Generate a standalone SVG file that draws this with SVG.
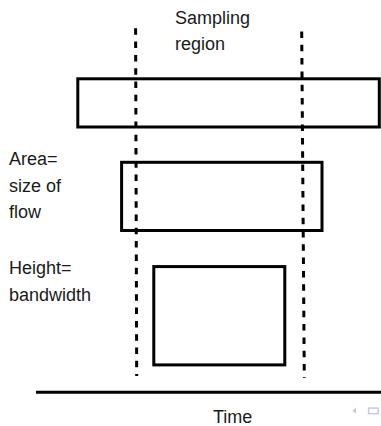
<svg xmlns="http://www.w3.org/2000/svg" width="381" height="426" viewBox="0 0 381 426">
<style>
.box{fill:none;stroke:#000;stroke-width:3}
.dash{fill:none;stroke:#000;stroke-width:3;stroke-dasharray:6.5 6.8}
.axis{fill:none;stroke:#000;stroke-width:3}
text{font-family:"Liberation Sans",Arial,sans-serif;font-size:18px;fill:#1a1a1a}
.nav{fill:none;stroke:#c8c8ea;stroke-width:1.5}
</style>
<rect width="381" height="426" fill="#fff"/>
<g id="connectors">
<line class="dash" x1="135.6" y1="28.3" x2="136.7" y2="376"/>
<line class="dash" x1="301.7" y1="31.5" x2="304.3" y2="378"/>
<line class="axis" x1="36" y1="392.3" x2="381" y2="392.3"/>
</g>
<g id="flow1"><rect class="box" x="77.8" y="78.8" width="301.5" height="48.2"/></g>
<g id="flow2"><rect class="box" x="121.6" y="162.3" width="200.4" height="68.2"/></g>
<g id="flow3"><rect class="box" x="153.8" y="266.6" width="131" height="98.3"/></g>
<g id="label-sampling"><text x="175" y="23.5">Sampling</text><text x="175" y="50">region</text></g>
<g id="label-area"><text x="9" y="165">Area=</text><text x="9" y="191.7">size of</text><text x="9" y="218.3">flow</text></g>
<g id="label-height"><text x="9" y="274.3">Height=</text><text x="9" y="300.5">bandwidth</text></g>
<g id="label-time"><text x="213" y="423.3">Time</text></g>
<g id="nav">
<polygon points="356,407.8 356,413.8 352.3,410.8" fill="#c8c8ea"/>
<rect class="nav" x="368.6" y="408.1" width="9.6" height="5.6"/>
</g>
</svg>
